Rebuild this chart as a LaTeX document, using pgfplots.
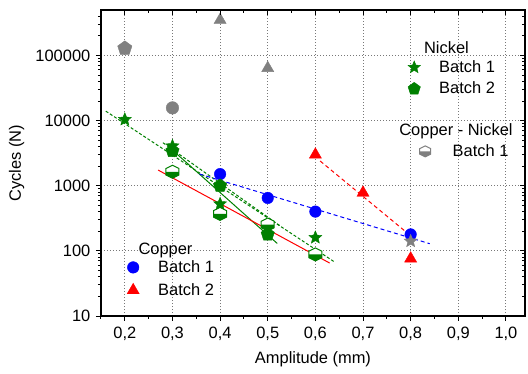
\documentclass[border=0pt]{standalone}
\usepackage{pgfplots}
\pgfplotsset{compat=1.18}
\usetikzlibrary{plotmarks}
\usepackage{fontspec}
\setmainfont{Liberation Sans}
\definecolor{cblue}{RGB}{0,0,255}
\definecolor{cred}{RGB}{255,0,0}
\definecolor{cgreen}{RGB}{0,128,0}
\definecolor{cgray}{RGB}{128,128,128}
\definecolor{cgrid}{RGB}{120,120,120}

\pgfdeclareplotmark{fstar}{%
  \pgfpathmoveto{\pgfpointpolar{90}{\pgfplotmarksize}}%
  \pgfpathlineto{\pgfpointpolar{126}{0.45\pgfplotmarksize}}%
  \pgfpathlineto{\pgfpointpolar{162}{\pgfplotmarksize}}%
  \pgfpathlineto{\pgfpointpolar{198}{0.45\pgfplotmarksize}}%
  \pgfpathlineto{\pgfpointpolar{234}{\pgfplotmarksize}}%
  \pgfpathlineto{\pgfpointpolar{270}{0.45\pgfplotmarksize}}%
  \pgfpathlineto{\pgfpointpolar{306}{\pgfplotmarksize}}%
  \pgfpathlineto{\pgfpointpolar{342}{0.45\pgfplotmarksize}}%
  \pgfpathlineto{\pgfpointpolar{18}{\pgfplotmarksize}}%
  \pgfpathlineto{\pgfpointpolar{54}{0.45\pgfplotmarksize}}%
  \pgfpathclose
  \pgfusepathqfillstroke
}
\newcommand\hexpath{%
  \pgfpathmoveto{\pgfqpoint{0pt}{\pgfplotmarksize}}%
  \pgfpathlineto{\pgfqpoint{\pgfplotmarksize}{0.5\pgfplotmarksize}}%
  \pgfpathlineto{\pgfqpoint{\pgfplotmarksize}{-0.5\pgfplotmarksize}}%
  \pgfpathlineto{\pgfqpoint{0pt}{-\pgfplotmarksize}}%
  \pgfpathlineto{\pgfqpoint{-\pgfplotmarksize}{-0.5\pgfplotmarksize}}%
  \pgfpathlineto{\pgfqpoint{-\pgfplotmarksize}{0.5\pgfplotmarksize}}%
  \pgfpathclose}
\newcommand\lowerhexpath{%
  \pgfpathmoveto{\pgfqpoint{\pgfplotmarksize}{0pt}}%
  \pgfpathlineto{\pgfqpoint{\pgfplotmarksize}{-0.5\pgfplotmarksize}}%
  \pgfpathlineto{\pgfqpoint{0pt}{-\pgfplotmarksize}}%
  \pgfpathlineto{\pgfqpoint{-\pgfplotmarksize}{-0.5\pgfplotmarksize}}%
  \pgfpathlineto{\pgfqpoint{-\pgfplotmarksize}{0pt}}%
  \pgfpathclose}
\pgfdeclareplotmark{halfhexgreen}{%
  \pgfsetfillcolor{white}\hexpath\pgfusepathqfill
  \pgfsetfillcolor{cgreen}\lowerhexpath\pgfusepathqfill
  \pgfsetstrokecolor{cgreen}\hexpath\pgfusepathqstroke
}
\pgfdeclareplotmark{halfhexgray}{%
  \pgfsetfillcolor{white}\hexpath\pgfusepathqfill
  \pgfsetfillcolor{cgray}\lowerhexpath\pgfusepathqfill
  \pgfsetstrokecolor{cgray}\hexpath\pgfusepathqstroke
}

\pgfplotsset{
  base/.style={at={(0,0)}, anchor=south west, scale only axis,
    width=424bp, height=306bp},
  leg/.style={base, xmin=0, xmax=1, ymin=0, ymax=1, hide axis,
    legend image code/.code={\path[draw=none, fill=none] (-8.5bp,-5bp) rectangle (8.5bp,5bp);
      \draw[##1] plot coordinates {(0bp,0bp)};},
    legend style={draw=none, fill=none, inner sep=0pt, anchor=north west,
      legend cell align=left, column sep=14.5bp,
      nodes={inner sep=2bp}}},
}

\begin{document}
\fontsize{16.5}{20}\selectfont
\begin{tikzpicture}
\useasboundingbox (-101bp,-58bp) rectangle (427bp,316bp);
\begin{axis}[
  base,
  xmin=0.15, xmax=1.04, ymode=log, ymin=10, ymax=5e5,
  xtick={0.2,0.3,0.4,0.5,0.6,0.7,0.8,0.9,1.0},
  xticklabels={{0,2},{0,3},{0,4},{0,5},{0,6},{0,7},{0,8},{0,9},{1,0}},
  ytick={10,100,1000,10000,100000},
  yticklabels={10,100,1000,10000,100000},
  minor xtick={0.15,0.25,0.35,0.45,0.55,0.65,0.75,0.85,0.95},
  minor ytick={20,30,40,50,60,70,80,90,200,300,400,500,600,700,800,900,2000,3000,4000,5000,6000,7000,8000,9000,20000,30000,40000,50000,60000,70000,80000,90000,200000,300000,400000},
  xtick pos=left, ytick pos=left,
  tick align=outside,
  major tick length=5bp, minor tick length=3bp,
  tick style={black, line width=1bp},
  axis line style={line width=1.3bp},
  xmajorgrids, ymajorgrids,
  major grid style={cgrid, line width=0.9bp, dash pattern=on 1bp off 2bp},
  xlabel={Amplitude (mm)}, ylabel={Cycles (N)},
]
% Copper batch 1
\addplot[only marks, mark=*, mark size=5.8bp, draw=cblue, fill=cblue]
  coordinates {(0.4,1510) (0.5,650) (0.6,401) (0.8,179)};
% Copper-Nickel batch 1 (half filled hexagons)
\addplot[only marks, mark=halfhexgreen, mark size=6.5bp, line width=1bp]
  coordinates {(0.3,1640) (0.4,370) (0.5,254) (0.6,88)};
% Nickel batch 2
\addplot[only marks, mark=pentagon*, mark size=7bp, draw=cgreen, fill=cgreen]
  coordinates {(0.3,3420) (0.4,1000) (0.5,179)};
% Nickel batch 1
\addplot[only marks, mark=fstar, mark size=6.8bp, draw=cgreen, fill=cgreen]
  coordinates {(0.2,10400) (0.3,4080) (0.4,526) (0.6,160)};
% Copper batch 2
\addplot[only marks, mark=triangle*, mark size=7bp, draw=cred, fill=cred]
  coordinates {(0.6,3000) (0.7,780) (0.8,76)};
% grey points
\addplot[only marks, mark=pentagon*, mark size=7.5bp, draw=cgray, fill=cgray]
  coordinates {(0.2,129000)};
\addplot[only marks, mark=*, mark size=6.3bp, draw=cgray, fill=cgray]
  coordinates {(0.3,15700)};
\addplot[only marks, mark=triangle*, mark size=7bp, draw=cgray, fill=cgray]
  coordinates {(0.4,351000) (0.5,64000)};
\addplot[only marks, mark=fstar, mark size=6.8bp, draw=cgray, fill=cgray]
  coordinates {(0.8,141)};
% fit lines
\addplot[cgreen, line width=1bp, dash pattern=on 3bp off 2bp]
  coordinates {(0.16,14000) (0.641,67)};
\addplot[cgreen, line width=1bp, dash pattern=on 3bp off 2bp]
  coordinates {(0.28,4580) (0.525,245)};
\addplot[cgreen, line width=1bp] coordinates {(0.29,4100) (0.52,130)};
\addplot[cred, line width=1bp] coordinates {(0.27,1740) (0.63,65)};
\addplot[cred, line width=1bp, dash pattern=on 4bp off 3bp]
  coordinates {(0.61,2400) (0.795,183)};
\addplot[cblue, line width=1bp, dash pattern=on 4bp off 3bp]
  coordinates {(0.357,1510) (0.84,129)};
\end{axis}
% top and right inward ticks
\begin{axis}[
  base,
  xmin=0.15, xmax=1.04, ymode=log, ymin=10, ymax=5e5,
  xtick={0.2,0.3,0.4,0.5,0.6,0.7,0.8,0.9,1.0},
  ytick={10,100,1000,10000,100000},
  minor xtick={0.15,0.25,0.35,0.45,0.55,0.65,0.75,0.85,0.95},
  minor ytick={20,30,40,50,60,70,80,90,200,300,400,500,600,700,800,900,2000,3000,4000,5000,6000,7000,8000,9000,20000,30000,40000,50000,60000,70000,80000,90000,200000,300000,400000},
  xticklabels={}, yticklabels={},
  xtick pos=right, ytick pos=right,
  tick align=inside,
  major tick length=5bp, minor tick length=3bp,
  tick style={black, line width=1bp},
  axis line style={line width=1.3bp},
]
\end{axis}
% Nickel legend
\begin{axis}[leg, legend style={at={(0.7182,0.843)}, row sep=3bp}]
\addlegendimage{only marks, mark=fstar, mark size=6.5bp, draw=cgreen, fill=cgreen}
\addlegendentry{Batch 1}
\addlegendimage{only marks, mark=pentagon*, mark size=6.5bp, draw=cgreen, fill=cgreen}
\addlegendentry{Batch 2}
\end{axis}
% Copper-Nickel legend
\begin{axis}[leg, legend style={at={(0.7441,0.5686)}, column sep=17bp}]
\addlegendimage{only marks, mark=halfhexgray, mark size=5.5bp, line width=1bp}
\addlegendentry{Batch 1}
\end{axis}
% Copper legend
\begin{axis}[leg, legend style={at={(0.0554,0.1895)}, row sep=4.5bp}]
\addlegendimage{only marks, mark=*, mark size=5.8bp, draw=cblue, fill=cblue}
\addlegendentry{Batch 1}
\addlegendimage{only marks, mark=triangle*, mark size=7bp, draw=cred, fill=cred}
\addlegendentry{Batch 2}
\end{axis}
\node[anchor=base, inner sep=0pt] at (345.5bp,262.4bp) {Nickel};
\node[anchor=base, inner sep=0pt] at (355bp,180.1bp) {Copper - Nickel};
\node[anchor=base, inner sep=0pt] at (64.5bp,61.8bp) {Copper};
\end{tikzpicture}
\end{document}
